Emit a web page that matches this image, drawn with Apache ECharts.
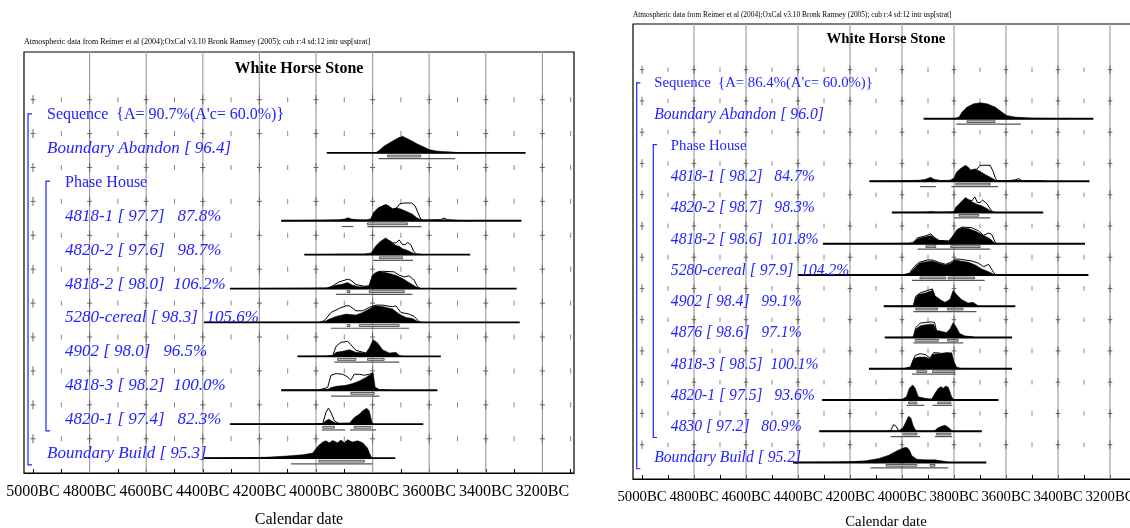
<!DOCTYPE html>
<html><head><meta charset="utf-8">
<script src="https://cdn.jsdelivr.net/npm/echarts@6/dist/echarts.min.js"></script>
<style>html,body{margin:0;padding:0;background:#fff}#c{width:1130px;height:528px}</style>
</head><body><div id="c"></div>
<script>
// ---------- axis values (years BC) ----------
const tickYears  = [5000,4900,4800,4700,4600,4500,4400,4300,4200,4100,4000,3900,3800,3700,3600,3500,3400,3300,3200,3100];
const labelYears = [5000,4800,4600,4400,4200,4000,3800,3600,3400,3200];
const gridYears  = [4800,4600,4400,4200,4000,3800,3600,3400,3200];
const headerText = "Atmospheric data from Reimer et al (2004);OxCal v3.10 Bronk Ramsey (2005); cub r:4 sd:12 intr usp[strat]";
const titleText = "White Horse Stone";

// ---------- LEFT panel ----------
const L_labels = [
  "Sequence  {A= 90.7%(A'c= 60.0%)}",
  "Boundary Abandon [ 96.4]",
  "Phase House",
  "4818-1 [ 97.7]   87.8%",
  "4820-2 [ 97.6]   98.7%",
  "4818-2 [ 98.0]  106.2%",
  "5280-cereal [ 98.3]  105.6%",
  "4902 [ 98.0]   96.5%",
  "4818-3 [ 98.2]  100.0%",
  "4820-1 [ 97.4]   82.3%",
  "Boundary Build [ 95.3]"
];
const L_kinds = ['seq','bound','phase','date','date','date','date','date','date','date','bound'];

const L_BA = { span:[3962,3259],
  post:[[3790,0],[3776,8],[3760,20],[3741,30],[3720,40],[3705,47],[3694,50],[3680,44],[3659,35],[3640,26],[3624,20],[3600,10],[3576,6],[3550,4],[3520,3],[3506,1.5],[3470,0.5],[3420,0]],
  r68:[[3747,3630]], r95:[[3779,3508]] };
const L_4818_1 = { span:[4123,3274],
  post:[[4123,0],[4050,1],[3980,2],[3920,3],[3900,5],[3886,9],[3875,5],[3850,3],[3820,3],[3806,6],[3795,25],[3780,38],[3765,44],[3753,48],[3740,42],[3729,35],[3715,38],[3700,35],[3680,28],[3660,20],[3645,10],[3630,3],[3620,1.5],[3560,2],[3547,3],[3530,1],[3450,0]],
  prior:[[3806,6],[3795,25],[3780,38],[3765,44],[3753,48],[3740,42],[3729,35],[3715,38],[3705,50],[3690,53],[3662,53],[3650,45],[3640,25],[3630,5],[3620,2],[3560,3],[3547,8],[3535,3],[3500,1],[3450,0]],
  r68:[[3818,3677]], r95:[[3909,3868],[3818,3627]] };
const L_4820_2 = { span:[4041,3455],
  post:[[4041,0],[3950,1],[3900,2],[3830,2],[3805,5],[3790,25],[3775,38],[3760,47],[3753,50],[3740,42],[3730,35],[3718,28],[3706,25],[3694,18],[3680,14],[3665,8],[3650,2],[3620,0]],
  prior:[[3740,42],[3730,36],[3718,35],[3706,44],[3694,30],[3685,30],[3677,36],[3665,30],[3655,10],[3645,2],[3620,0]],
  r68:[[3776,3694]], r95:[[3798,3657]] };
const L_4818_2 = { span:[4304,3291],
  post:[[4304,0],[4100,1],[3960,2],[3947,5],[3930,10],[3912,12],[3888,18],[3871,10],[3847,5],[3820,6],[3812,8],[3800,40],[3788,48],[3776,50],[3753,48],[3718,40],[3694,30],[3671,18],[3647,5],[3635,0]],
  prior:[[3960,2],[3947,5],[3918,20],[3888,28],[3877,25],[3859,12],[3830,7],[3812,8],[3800,40],[3782,50],[3765,52],[3724,50],[3706,40],[3688,35],[3671,38],[3653,25],[3641,5],[3630,0]],
  r68:[[3890,3880],[3812,3688]], r95:[[3929,3659]] };
const L_5280 = { span:[4396,3280],
  post:[[4396,0],[4100,1],[3985,1],[3971,2],[3953,10],[3929,18],[3894,25],[3859,22],[3835,30],[3812,40],[3794,50],[3765,48],[3729,40],[3706,25],[3682,15],[3659,12],[3641,3],[3630,0]],
  prior:[[3985,2],[3971,5],[3947,30],[3918,42],[3894,50],[3882,50],[3859,35],[3835,35],[3812,45],[3788,52],[3765,52],[3729,47],[3718,50],[3700,30],[3671,25],[3653,18],[3635,2],[3625,0]],
  r68:[[3890,3880],[3847,3706]], r95:[[3947,3671]] };
const L_4902 = { span:[4065,3559],
  post:[[4065,0],[3960,1],[3941,2],[3929,12],[3906,15],[3882,20],[3859,12],[3824,10],[3812,25],[3798,50],[3782,40],[3765,20],[3741,10],[3718,12],[3706,3],[3695,0]],
  prior:[[3960,1],[3941,2],[3929,30],[3912,42],[3888,45],[3877,35],[3859,18],[3824,10]],
  r68:[[3924,3859],[3818,3759]], r95:[[3935,3706]] };
const L_4818_3 = { span:[4123,3571],
  post:[[4123,0],[3990,1],[3959,2],[3947,8],[3929,12],[3894,15],[3871,20],[3847,28],[3824,38],[3806,48],[3798,52],[3791,10],[3776,2],[3740,0]],
  prior:[[3990,1],[3959,8],[3947,45],[3929,50],[3906,48],[3888,40],[3877,30],[3865,48],[3847,48],[3829,45],[3812,48],[3798,52]],
  r68:[[3877,3794]], r95:[[3947,3776]] };
const L_4820_1 = { span:[4304,3621],
  post:[[4304,0],[4000,1],[3976,2],[3965,10],[3955,15],[3941,8],[3929,3],[3882,3],[3865,20],[3847,30],[3835,40],[3821,48],[3812,40],[3802,5],[3795,0]],
  prior:[[4000,1],[3976,2],[3965,35],[3956,48],[3947,35],[3935,10],[3918,2],[3882,3]],
  r68:[[3976,3935],[3865,3806]], r95:[[3980,3897],[3880,3788]] };
const L_BB = { span:[4396,3720],
  post:[[4396,0],[4300,1],[4200,2],[4165,3],[4106,6],[4047,10],[4012,15],[3994,35],[3988,40],[3976,48],[3965,52],[3953,46],[3941,53],[3924,46],[3912,54],[3900,47],[3888,55],[3871,48],[3853,52],[3835,46],[3818,30],[3806,5],[3800,0]],
  r68:[[3990,3829]], r95:[[4088,3800]] };
const L_dists = [null, L_BA, null, L_4818_1, L_4820_2, L_4818_2, L_5280, L_4902, L_4818_3, L_4820_1, L_BB];

// ---------- RIGHT panel ----------
const R_labels = [
  "Sequence  {A= 86.4%(A'c= 60.0%)}",
  "Boundary Abandon [ 96.0]",
  "Phase House",
  "4818-1 [ 98.2]   84.7%",
  "4820-2 [ 98.7]   98.3%",
  "4818-2 [ 98.6]  101.8%",
  "5280-cereal [ 97.9]  104.2%",
  "4902 [ 98.4]   99.1%",
  "4876 [ 98.6]   97.1%",
  "4818-3 [ 98.5]  100.1%",
  "4820-1 [ 97.5]   93.6%",
  "4830 [ 97.2]   80.9%",
  "Boundary Build [ 95.2]"
];
const R_kinds = ['seq','bound','phase','date','date','date','date','date','date','date','date','date','bound'];

const R_BA = { span:[3917,3264],
  post:[[3800,0],[3781,5],[3769,20],[3750,35],[3724,45],[3699,48],[3673,45],[3642,35],[3616,20],[3597,10],[3566,5],[3502,2],[3426,1],[3360,0]],
  r68:[[3750,3642]], r95:[[3791,3543]] };
const R_4818_1 = { span:[4125,3279],
  post:[[4125,0],[4036,1],[3934,3],[3910,6],[3890,12],[3877,6],[3850,2],[3815,3],[3800,10],[3790,28],[3775,38],[3756,48],[3745,42],[3735,33],[3718,36],[3700,30],[3680,20],[3660,12],[3645,5],[3635,1],[3600,1],[3560,3],[3552,4],[3540,1],[3450,0]],
  prior:[[3735,33],[3718,36],[3712,36],[3700,47],[3690,48],[3661,48],[3650,30],[3640,8],[3635,2],[3600,1],[3565,4],[3552,8],[3540,2],[3450,0]],
  r68:[[3793,3661]], r95:[[3931,3870],[3810,3631]] };
const R_4820_2 = { span:[4039,3457],
  post:[[4039,0],[3920,1],[3883,3],[3870,1],[3810,2],[3800,3],[3794,15],[3775,30],[3756,45],[3743,38],[3731,32],[3712,25],[3693,20],[3674,12],[3655,3],[3645,0]],
  prior:[[3743,38],[3731,35],[3720,47],[3710,30],[3700,30],[3690,37],[3675,28],[3660,10],[3650,2],[3640,0]],
  r68:[[3781,3705]], r95:[[3800,3661]] };
const R_4818_2 = { span:[4304,3296],
  post:[[4304,0],[4050,1],[3970,2],[3959,2],[3940,15],[3915,20],[3889,25],[3877,18],[3858,10],[3820,8],[3807,20],[3788,42],[3769,48],[3743,45],[3718,38],[3686,25],[3661,15],[3648,5],[3640,0]],
  prior:[[3970,2],[3959,2],[3940,18],[3915,22],[3889,30],[3877,20],[3858,10],[3820,8],[3807,20],[3788,42],[3769,50],[3731,48],[3705,38],[3686,25],[3667,32],[3655,28],[3642,5],[3635,0]],
  r68:[[3908,3870],[3813,3699]], r95:[[3940,3661]] };
const R_5280 = { span:[4400,3283],
  post:[[4400,0],[4100,1],[3990,1],[3972,3],[3953,20],[3934,35],[3908,40],[3883,42],[3858,35],[3832,30],[3813,35],[3794,45],[3775,42],[3743,38],[3718,30],[3693,18],[3667,10],[3648,3],[3640,0]],
  prior:[[3990,2],[3972,5],[3953,25],[3934,38],[3902,45],[3883,45],[3858,38],[3832,32],[3813,38],[3794,48],[3775,47],[3731,42],[3705,35],[3686,25],[3667,32],[3648,8],[3640,0]],
  r68:[[3931,3832],[3822,3721]], r95:[[3962,3682]] };
const R_4902 = { span:[4070,3564],
  post:[[4070,0],[3970,1],[3956,2],[3947,25],[3937,35],[3911,40],[3892,45],[3883,48],[3873,30],[3854,20],[3835,12],[3816,20],[3803,48],[3790,35],[3771,20],[3746,10],[3727,12],[3714,5],[3705,0]],
  prior:[[3956,2],[3947,30],[3930,40],[3911,45],[3892,50],[3883,52],[3873,30],[3854,20]],
  r68:[[3947,3863],[3825,3765]], r95:[[3956,3714]] };
const R_4876 = { span:[4066,3577],
  post:[[4066,0],[3970,1],[3956,2],[3947,25],[3930,35],[3911,38],[3892,40],[3879,40],[3867,20],[3848,18],[3829,15],[3816,25],[3803,45],[3790,30],[3778,12],[3759,5],[3727,2],[3720,0]],
  prior:[[3956,2],[3947,30],[3930,43],[3911,45],[3886,47],[3875,45],[3867,20],[3848,18]],
  r68:[[3949,3860],[3825,3784]], r95:[[3956,3765]] };
const R_4818_3 = { span:[4127,3577],
  post:[[4127,0],[3990,1],[3968,3],[3956,30],[3937,35],[3911,35],[3892,30],[3883,42],[3867,45],[3848,45],[3822,48],[3809,48],[3799,20],[3790,5],[3770,0]],
  prior:[[3990,1],[3968,5],[3949,40],[3930,45],[3911,43],[3892,32],[3879,48],[3867,48],[3848,46],[3822,48]],
  r68:[[3943,3905],[3883,3797]], r95:[[3962,3793]] };
const R_4820_1 = { span:[4307,3629],
  post:[[4307,0],[4100,0.5],[4038,2],[4000,2],[3983,10],[3972,35],[3959,45],[3949,35],[3937,10],[3911,5],[3886,3],[3873,20],[3860,35],[3850,40],[3841,35],[3832,42],[3822,38],[3809,10],[3800,0]],
  r68:[[3975,3943],[3863,3812]], r95:[[3983,3914],[3883,3807]] };
const R_4830 = { span:[4318,3693],
  post:[[4318,0],[4044,1],[4013,1],[3997,10],[3987,25],[3975,45],[3966,40],[3956,15],[3947,3],[3937,0],[3880,0],[3873,2],[3863,10],[3848,15],[3835,18],[3822,12],[3809,2],[3800,0]],
  prior:[[4055,1],[4044,2],[4032,20],[4023,15],[4013,2],[4006,1],[3997,10]],
  r68:[[3994,3943],[3867,3812]], r95:[[4044,3930],[3873,3807]] };
const R_BB = { span:[4419,3676],
  post:[[4419,0],[4343,1],[4216,2],[4140,5],[4089,12],[4051,22],[4019,35],[4000,42],[3990,45],[3981,45],[3972,38],[3962,20],[3943,10],[3911,8],[3873,8],[3848,5],[3829,2],[3815,0]],
  r68:[[4061,3943],[3892,3873]], r95:[[4121,3822]] };
const R_dists = [null, R_BA, null, R_4818_1, R_4820_2, R_4818_2, R_5280, R_4902, R_4876, R_4818_3, R_4820_1, R_4830, R_BB];

// ---------- layout ----------
const FONT = '"Liberation Serif","Times New Roman",serif';
const BLUE = '#2222ff';
const panels = [
  { labels:L_labels, kinds:L_kinds, dists:L_dists, s:1,
    grid:{left:24, top:52, width:550, height:421}, xmin:3088.3, xmax:5031.8, ymin:-1.976, ymax:10.44, rowPx:33.9 },
  { labels:R_labels, kinds:R_kinds, dists:R_dists, s:0.922,
    grid:{left:633, top:24, width:506, height:455}, xmin:3088.5, xmax:5034.6, ymin:-2.032, ymax:12.528, rowPx:31.25 }
];

function distRenderer(P) {
  const div = 3 * P.rowPx;
  return function (params, api) {
    const k = api.value(1);
    const s = P.s, cs = params.coordSys;
    const kids = [];
    const d = P.dists[k];
    if (d) {
      if (d.prior) {
        kids.push({ type:'polyline', shape:{ points: d.prior.map(([yr, h]) => api.coord([yr, k - h / div])) },
          style:{ stroke:'#000', lineWidth:1, fill:'none' } });
      }
      const pts = d.post.map(([yr, h]) => api.coord([yr, k - h / div]));
      kids.push({ type:'polygon', shape:{ points: pts }, style:{ fill:'#000', stroke:'#000', lineWidth:0.5 } });
      const p0 = api.coord([d.span[0], k]), p1 = api.coord([d.span[1], k]);
      kids.push({ type:'line', shape:{ x1:p0[0], y1:p0[1], x2:p1[0], y2:p1[1] }, style:{ stroke:'#000', lineWidth:1.8 } });
      d.r68.forEach(([a, b]) => {
        const q0 = api.coord([a, k]), q1 = api.coord([b, k]);
        kids.push({ type:'rect', shape:{ x:q0[0], y:q0[1] + 2.2 * s, width:q1[0] - q0[0], height:1.8 * s },
          style:{ fill:'#ddd', stroke:'#333', lineWidth:0.8 } });
      });
      d.r95.forEach(([a, b]) => {
        const q0 = api.coord([a, k]), q1 = api.coord([b, k]);
        kids.push({ type:'line', shape:{ x1:q0[0], y1:q0[1] + 5.8 * s, x2:q1[0], y2:q1[1] + 5.8 * s },
          style:{ stroke:'#555', lineWidth:1.2 } });
      });
    }
    const kind = P.kinds[k];
    const italic = (kind === 'bound' || kind === 'date');
    const xoff = (kind === 'seq' || kind === 'bound') ? 23 : 41;
    const yb = api.coord([P.xmax, k])[1];
    kids.push({ type:'text', x: cs.x + xoff * s, y: yb - 4.5 * s,
      style:{ text:P.labels[k], fill:BLUE, fontFamily:FONT, fontSize:(italic ? 17 : 16) * s,
        fontStyle: italic ? 'italic' : 'normal', align:'left', verticalAlign:'middle' } });
    return { type:'group', children:kids };
  };
}

function decoRenderer(P) {
  return function (params, api) {
    const s = P.s, cs = params.coordSys;
    const kids = [];
    const yTop = cs.y, yBot = cs.y + cs.height;
    gridYears.forEach(yr => {
      const x = api.coord([yr, 0])[0];
      kids.push({ type:'line', shape:{ x1:x, y1:yTop, x2:x, y2:yBot }, style:{ stroke:'#a0a0a0', lineWidth:1.2 } });
    });
    P.labels.forEach((_, k) => {
      const y = api.coord([P.xmax, k - 0.57])[1];
      tickYears.forEach(yr => {
        const x = api.coord([yr, k])[0];
        if (yr % 200 === 0) {
          kids.push({ type:'line', shape:{ x1:x, y1:y - 4.5 * s, x2:x, y2:y + 4.5 * s }, style:{ stroke:'#666', lineWidth:1 } });
          kids.push({ type:'line', shape:{ x1:x - 2.5 * s, y1:y, x2:x + 2.5 * s, y2:y }, style:{ stroke:'#666', lineWidth:1 } });
        } else {
          kids.push({ type:'line', shape:{ x1:x, y1:y - 2.5 * s, x2:x, y2:y + 2.5 * s }, style:{ stroke:'#888', lineWidth:1 } });
        }
      });
    });
    const n = P.labels.length;
    const phaseK = P.kinds.indexOf('phase');
    const lastDate = P.kinds.lastIndexOf('date');
    const bracket = (xo, k0, k1) => {
      const x = cs.x + xo * s;
      const y0 = api.coord([P.xmax, k0])[1], y1 = api.coord([P.xmax, k1])[1];
      kids.push({ type:'polyline', shape:{ points:[[x + 4 * s, y0], [x, y0], [x, y1], [x + 4 * s, y1]] },
        style:{ stroke:BLUE, lineWidth:1.2, fill:'none' } });
    };
    bracket(4, -0.15, n - 1 + 0.2);
    bracket(22, phaseK - 0.17, lastDate + 0.2);
    kids.push({ type:'text', x: cs.x + cs.width / 2, y: yTop + 17 * s,
      style:{ text:titleText, fill:'#000', fontFamily:FONT, fontWeight:'bold', fontSize:16 * s, align:'center', verticalAlign:'middle' } });
    kids.push({ type:'text', x: cs.x, y: yTop - 10 * s,
      style:{ text:headerText, fill:'#000', fontFamily:FONT, fontSize:8 * s, align:'left', verticalAlign:'middle' } });
    return { type:'group', children:kids };
  };
}

const option = {
  animation:false,
  backgroundColor:'#fff',
  grid: panels.map(P => Object.assign({ show:true, borderColor:'#000', borderWidth:1.2, backgroundColor:'transparent',
    containLabel:false, outerBoundsMode:'none' }, P.grid)),
  xAxis: panels.map((P, i) => ({
    gridIndex:i, type:'value', inverse:true, min:P.xmin, max:P.xmax,
    axisLine:{ show:true, onZero:false, lineStyle:{ color:'#000', width:1.2 } },
    axisTick:{ show:true, inside:true, length:4, customValues:tickYears, lineStyle:{ color:'#000' } },
    axisLabel:{ show:true, customValues:labelYears, formatter: v => v + 'BC', fontFamily:FONT, fontSize:16 * P.s, color:'#000', margin:11 * P.s, hideOverlap:false },
    splitLine:{ show:false },
    name:'Calendar date', nameLocation:'middle', nameGap:39 * P.s,
    nameTextStyle:{ fontFamily:FONT, fontSize:16 * P.s, color:'#000' }
  })),
  yAxis: panels.map((P, i) => ({
    gridIndex:i, type:'value', inverse:true, min:P.ymin, max:P.ymax, show:false, splitLine:{ show:false }
  })),
  series: [].concat(...panels.map((P, i) => ([
    { type:'custom', xAxisIndex:i, yAxisIndex:i, z:1, silent:true, clip:false,
      renderItem: decoRenderer(P), data:[[P.xmax, 0]] },
    { type:'custom', xAxisIndex:i, yAxisIndex:i, z:2, silent:true, clip:false,
      renderItem: distRenderer(P), data: P.labels.map((_, k) => [P.xmax, k]) }
  ])))
};
const chart = echarts.init(document.getElementById('c'), null, { renderer:'canvas' });
chart.setOption(option);
</script></body></html>
